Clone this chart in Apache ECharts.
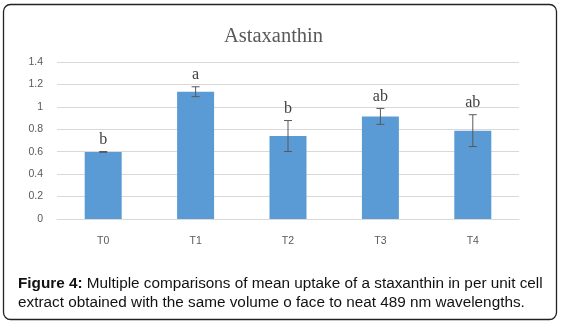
<!DOCTYPE html>
<html>
<head>
<meta charset="utf-8">
<script src="https://cdn.jsdelivr.net/npm/echarts@6/dist/echarts.min.js"></script>
<style>
html,body{margin:0;padding:0;background:#fff;}
#chart{width:563px;height:326px;}
</style>
</head>
<body>
<div id="chart"></div>
<script>
var categories = ['T0', 'T1', 'T2', 'T3', 'T4'];
var means = [0.598, 1.135, 0.740, 0.915, 0.788];
var errors = [0.004, 0.044, 0.138, 0.071, 0.142];
var letters = ['b', 'a', 'b', 'ab', 'ab'];
var yTicks = { min: 0, max: 1.4, interval: 0.2 };
var chartTitle = 'Astaxanthin';
var captionBold = 'Figure 4:';
var captionLine1 = ' Multiple comparisons of mean uptake of a staxanthin in per unit cell';
var captionLine2 = 'extract obtained with the same volume o face to neat 489 nm wavelengths.';

var chart = echarts.init(document.getElementById('chart'), null, { renderer: 'canvas' });

var errData = categories.map(function (c, i) { return [i, means[i], errors[i], letters[i]]; });

var option = {
  animation: false,
  backgroundColor: '#fff',
  title: {
    text: chartTitle,
    left: 219,
    top: 21,
    textStyle: { fontFamily: 'Liberation Serif', fontSize: 20.5, fontWeight: 'normal', color: '#595959' }
  },
  grid: { left: 57, right: 44, top: 62, bottom: 107 },
  xAxis: {
    type: 'category',
    data: categories,
    axisLine: { lineStyle: { color: '#d9d9d9', width: 1 } },
    axisTick: { show: false },
    axisLabel: { color: '#595959', fontFamily: 'Liberation Sans', fontSize: 10.5, margin: 17 }
  },
  yAxis: {
    type: 'value',
    min: yTicks.min, max: yTicks.max, interval: yTicks.interval,
    axisLine: { show: false },
    axisTick: { show: false },
    splitLine: { lineStyle: { color: '#d9d9d9', width: 1 } },
    axisLabel: { color: '#595959', fontFamily: 'Liberation Sans', fontSize: 10.5, margin: 14 }
  },
  series: [
    {
      type: 'bar',
      data: means,
      barWidth: 37,
      itemStyle: { color: '#5B9BD5' },
      z: 2
    },
    {
      type: 'custom',
      data: errData,
      z: 5,
      renderItem: function (params, api) {
        var x = api.value(0), m = api.value(1), e = api.value(2);
        var top = api.coord([x, m + e]);
        var bot = api.coord([x, m - e]);
        var cw = 4;
        var st = { stroke: '#595959', lineWidth: 1 };
        return {
          type: 'group',
          children: [
            { type: 'line', shape: { x1: top[0], y1: top[1], x2: bot[0], y2: bot[1] }, style: st },
            { type: 'line', shape: { x1: top[0] - cw, y1: top[1], x2: top[0] + cw, y2: top[1] }, style: st },
            { type: 'line', shape: { x1: bot[0] - cw, y1: bot[1], x2: bot[0] + cw, y2: bot[1] }, style: st },
            {
              type: 'text',
              style: {
                text: letters[params.dataIndex],
                x: top[0], y: top[1] - 4,
                textAlign: 'center', textVerticalAlign: 'bottom',
                fontFamily: 'Liberation Serif', fontSize: 16, fill: '#404040'
              }
            }
          ]
        };
      }
    }
  ],
  graphic: [
    {
      type: 'rect',
      shape: { x: 3.5, y: 4.5, width: 553, height: 315, r: 7 },
      style: { fill: null, stroke: '#222', lineWidth: 1.3 },
      z: 0
    },
    {
      type: 'text',
      left: 18, top: 274,
      style: {
        text: '{b|' + captionBold + '}' + captionLine1 + '\n' + captionLine2,
        rich: { b: { fontWeight: 'bold', fontFamily: 'Liberation Sans', fontSize: 15.3, fill: '#111' } },
        fontFamily: 'Liberation Sans', fontSize: 15.3, fill: '#111', lineHeight: 19
      }
    }
  ]
};
chart.setOption(option);
</script>
</body>
</html>
